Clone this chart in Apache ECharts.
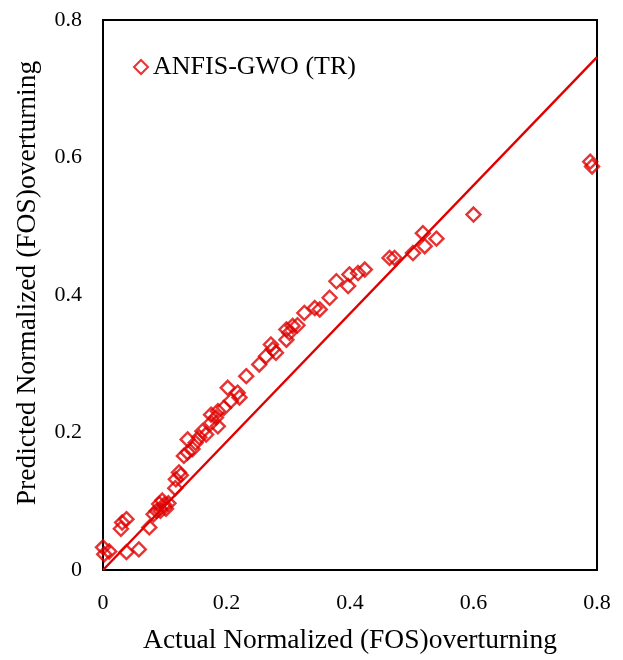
<!DOCTYPE html>
<html>
<head>
<meta charset="utf-8">
<script src="https://cdn.jsdelivr.net/npm/echarts@6/dist/echarts.min.js"></script>
<style>
  html, body { margin: 0; padding: 0; background: #fff; }
  #chart { width: 623px; height: 660px; }
</style>
</head>
<body>
<div id="chart"></div>
<script>
// 实测 vs 预测（归一化 FOS overturning），读自原图
const actual = [0.000, 0.002, 0.010, 0.029, 0.031, 0.038, 0.038, 0.058, 0.075, 0.082,
  0.087, 0.093, 0.091, 0.096, 0.102, 0.099, 0.106, 0.117, 0.118, 0.123,
  0.126, 0.131, 0.137, 0.137, 0.145, 0.150, 0.156, 0.161, 0.167, 0.175,
  0.175, 0.183, 0.186, 0.186, 0.196, 0.202, 0.207, 0.218, 0.221, 0.232,
  0.253, 0.264, 0.272, 0.275, 0.280, 0.297, 0.297, 0.302, 0.307, 0.315,
  0.326, 0.343, 0.351, 0.367, 0.378, 0.397, 0.399, 0.413, 0.424, 0.464,
  0.472, 0.502, 0.518, 0.521, 0.540, 0.600, 0.789, 0.792];
const predicted = [0.033, 0.023, 0.027, 0.060, 0.069, 0.074, 0.026, 0.030, 0.062, 0.081,
  0.086, 0.086, 0.096, 0.101, 0.089, 0.095, 0.097, 0.119, 0.132, 0.142,
  0.138, 0.166, 0.171, 0.190, 0.176, 0.185, 0.193, 0.202, 0.197, 0.214,
  0.226, 0.222, 0.209, 0.231, 0.236, 0.265, 0.246, 0.258, 0.251, 0.282,
  0.299, 0.311, 0.328, 0.321, 0.316, 0.335, 0.350, 0.345, 0.355, 0.356,
  0.374, 0.381, 0.379, 0.396, 0.420, 0.413, 0.430, 0.432, 0.437, 0.454,
  0.454, 0.461, 0.490, 0.471, 0.482, 0.517, 0.594, 0.587];
// 趋势线（过原点）
const fitLine = [[0, 0], [0.8, 0.746]];
const ticks = [0, 0.2, 0.4, 0.6, 0.8];

const RED = "#e00000";
const FONT = "'Liberation Serif', 'DejaVu Serif', serif";

const chart = echarts.init(document.getElementById("chart"));
const axisBase = {
  type: "value", min: 0, max: 0.8, interval: 0.2,
  axisLine: { show: true, lineStyle: { color: "#000", width: 2 } },
  axisTick: { show: false },
  splitLine: { show: false },
  axisLabel: { color: "#000", fontFamily: FONT, fontSize: 22,
    formatter: v => ticks.includes(+v.toFixed(1)) ? String(+v.toFixed(1)) : "" },
  nameLocation: "middle",
  nameTextStyle: { color: "#000", fontFamily: FONT, fontSize: 27.5 },
};
chart.setOption({
  animation: false,
  backgroundColor: "#fff",
  grid: { left: 103, right: 26, top: 20, bottom: 90, show: true,
    borderColor: "#000", borderWidth: 2, backgroundColor: "transparent" },
  legend: {
    data: ["ANFIS-GWO (TR)"], left: 128, top: 49,
    itemWidth: 14, itemHeight: 14, itemGap: 8,
    textStyle: { color: "#000", fontFamily: FONT, fontSize: 26 },
  },
  xAxis: { ...axisBase, name: "Actual Normalized (FOS)overturning", nameGap: 57,
    axisLabel: { ...axisBase.axisLabel, margin: 22 } },
  yAxis: { ...axisBase, name: "Predicted Normalized (FOS)overturning", nameGap: 61,
    nameTextStyle: { ...axisBase.nameTextStyle, padding: [0, 0, 0, 24] },
    axisLabel: { ...axisBase.axisLabel, margin: 21 } },
  series: [
    {
      name: "ANFIS-GWO (TR)", type: "scatter", symbol: "diamond", symbolSize: 14,
      itemStyle: { color: "transparent", borderColor: RED, borderWidth: 2.4 },
      data: actual.map((x, i) => [x, predicted[i]]),
      z: 3,
    },
    {
      name: "fit", type: "line", data: fitLine, showSymbol: false, symbol: "none",
      lineStyle: { color: RED, width: 2.4 }, z: 2,
    },
  ],
});
</script>
</body>
</html>
